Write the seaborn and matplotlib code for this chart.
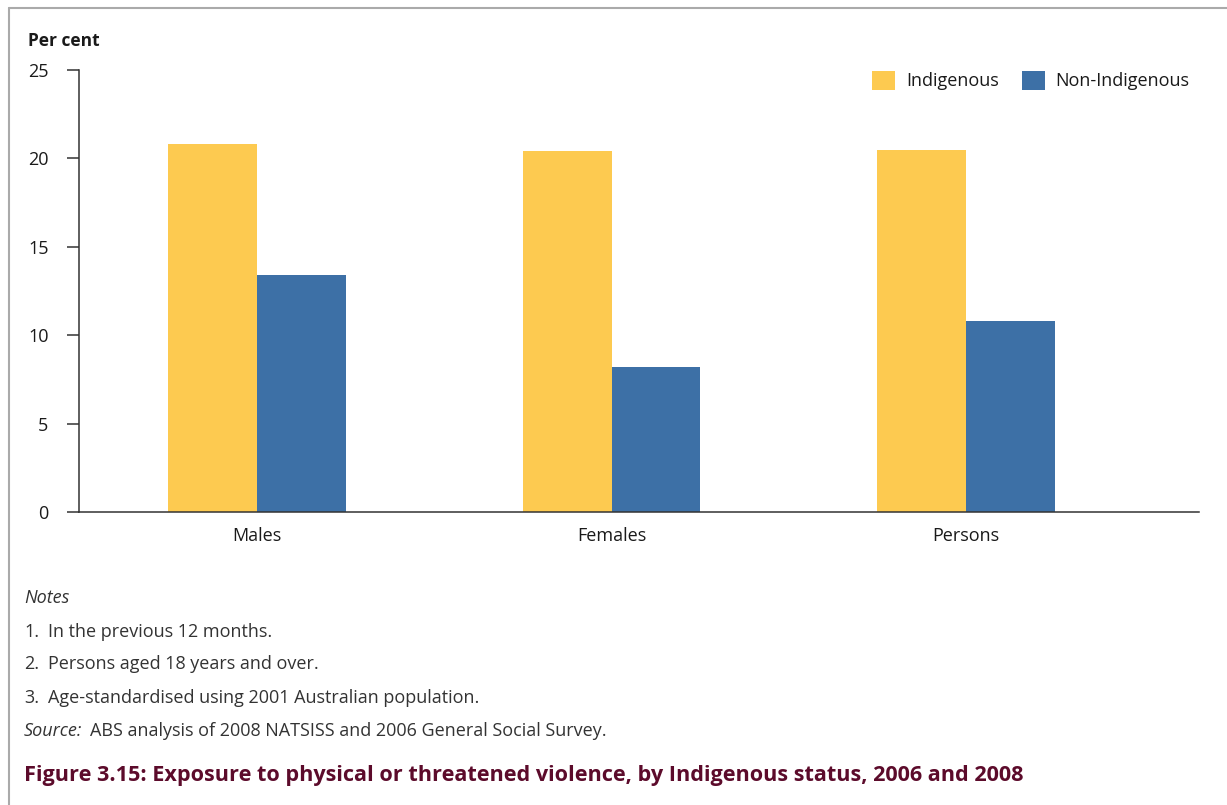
import pandas as pd
import matplotlib.pyplot as plt
import seaborn as sns
from matplotlib.lines import Line2D

# Data
groups = ["Males", "Females", "Persons"]
indigenous = [20.8, 20.4, 20.5]
non_indigenous = [13.4, 8.2, 10.8]
series = ["Indigenous", "Non-Indigenous"]
colors = ["#FDCA50", "#3D70A6"]
y_ticks = [0, 5, 10, 15, 20, 25]

df = pd.DataFrame({
    "group": groups * 2,
    "status": [series[0]] * 3 + [series[1]] * 3,
    "value": indigenous + non_indigenous,
})

sns.set_style("white")
plt.rcParams["font.family"] = ["Open Sans", "DejaVu Sans"]
text_col = "#1a1a1a"
note_col = "#333333"

fig = plt.figure(figsize=(12.27, 8.05), dpi=100)
ax = fig.add_axes([79 / 1227, 293 / 805, 1120 / 1227, 442 / 805])

sns.barplot(
    data=df, x="group", y="value", hue="status",
    palette=colors, width=0.5, saturation=1, ax=ax,
    edgecolor="none", linewidth=0,
)

ax.set_xlim(-0.502, 2.657)
ax.set_ylim(0, 25)
ax.set_yticks(y_ticks)
ax.set_xlabel("")
ax.set_ylabel("")

for s in ["top", "right"]:
    ax.spines[s].set_visible(False)
for s in ["left", "bottom"]:
    ax.spines[s].set_color("#333333")
    ax.spines[s].set_linewidth(1.1)

ax.tick_params(axis="y", direction="out", length=9, width=1.1, color="#333333",
               pad=13, labelsize=13, labelcolor=text_col, left=True)
ax.tick_params(axis="x", length=0, pad=11, labelsize=13, labelcolor=text_col)

leg = ax.legend(loc="upper right", bbox_to_anchor=(1.006, 1.035), frameon=False,
                ncol=2, fontsize=13, handlelength=1.25, handleheight=1.25,
                columnspacing=1.3, handletextpad=0.6)
for t in leg.get_texts():
    t.set_color(text_col)

# Axis title
fig.text(28 / 1227, 1 - 41 / 805, "Per cent", fontsize=12.5, fontweight="bold",
         color=text_col, va="center", ha="left")

# Notes and source
fig.text(24 / 1227, 1 - 598 / 805, "Notes", fontsize=13, style="italic",
         color=note_col, va="center")
notes = ["In the previous 12 months.",
         "Persons aged 18 years and over.",
         "Age-standardised using 2001 Australian population."]
for i, (n, yy) in enumerate(zip(notes, [632, 664, 698])):
    fig.text(24 / 1227, 1 - yy / 805, f"{i + 1}.", fontsize=13,
             color=note_col, va="center")
    fig.text(48 / 1227, 1 - yy / 805, n, fontsize=13,
             color=note_col, va="center")
fig.text(24 / 1227, 1 - 731 / 805, "Source:", fontsize=13, style="italic",
         color=note_col, va="center")
fig.text(90 / 1227, 1 - 731 / 805,
         "ABS analysis of 2008 NATSISS and 2006 General Social Survey.",
         fontsize=13, color=note_col, va="center")

fig.text(24 / 1227, 1 - 775 / 805,
         "Figure 3.15: Exposure to physical or threatened violence, by Indigenous status, 2006 and 2008",
         fontsize=15.6, fontweight="bold", color="#5C0B2B", va="center")

# frame lines (top and left)
fig.add_artist(Line2D([9 / 1227, 1], [1 - 8 / 805] * 2, color="#aaaaaa", lw=1.5))
fig.add_artist(Line2D([9 / 1227] * 2, [0, 1 - 8 / 805], color="#aaaaaa", lw=1.5))

fig.savefig("out.png", dpi=100, facecolor="white")
